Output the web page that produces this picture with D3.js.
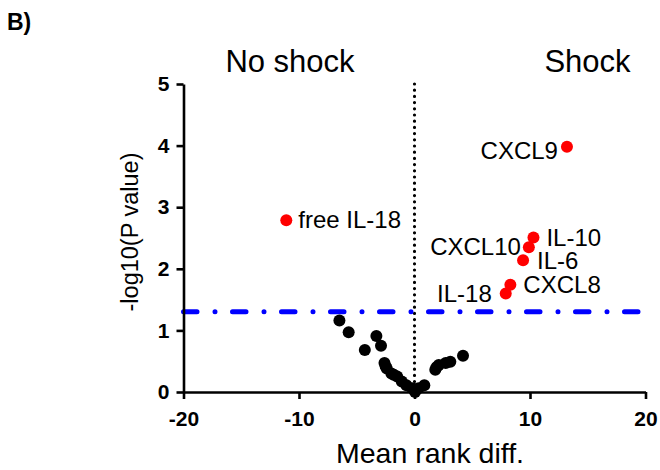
<!DOCTYPE html>
<html>
<head>
<meta charset="utf-8">
<script src="https://cdn.jsdelivr.net/npm/d3@7"></script>
<style>
  body { margin: 0; background: white; }
  svg { display: block; font-family: Arial, "Liberation Sans", sans-serif; }
</style>
</head>
<body>
<div id="chart"></div>
<script>
// significant cytokines (red)
const sigNames = ['CXCL9', 'free IL-18', 'IL-10', 'CXCL10', 'IL-6', 'CXCL8', 'IL-18'];
const sigRankDiff = [13.2, -11.1, 10.3, 9.9, 9.4, 8.3, 7.9];
const sigLogP = [3.98, 2.79, 2.51, 2.35, 2.14, 1.74, 1.60];

// non significant (black)
const nsRankDiff = [-6.5, -5.7, -3.3, -4.3, -2.9, -2.6, -2.5, -2.4, -2.0, -1.8, -1.5, -1.1, -0.7, -0.2, 0.05, 0.35, 0.85, 1.8, 1.9, 2.1, 2.7, 3.1, 4.2];
const nsLogP = [1.16, 0.97, 0.91, 0.68, 0.75, 0.47, 0.42, 0.38, 0.30, 0.28, 0.25, 0.17, 0.11, 0.06, 0.0, 0.06, 0.11, 0.36, 0.40, 0.44, 0.47, 0.49, 0.59];

const xTicks = [-20, -10, 0, 10, 20];
const yTicks = [0, 1, 2, 3, 4, 5];
const pThreshold = 0.05;

// label placement next to each red point: anchor, dx, dy
const labelPos = {
  'CXCL9': ['end', -9, 12],
  'free IL-18': ['start', 12, 8],
  'IL-10': ['start', 13, 9],
  'CXCL10': ['end', -8, 8],
  'IL-6': ['start', 14, 9],
  'CXCL8': ['start', 13, 8],
  'IL-18': ['end', -14, 9]
};

function main() {
  const width = 660, height = 470;
  const svg = d3.select('#chart').append('svg')
    .attr('width', width).attr('height', height);

  const x = d3.scaleLinear().domain([-20, 20]).range([183.5, 645.5]);
  const y = d3.scaleLinear().domain([0, 5]).range([392, 84]);

  // panel letter
  svg.append('text')
    .attr('x', 7).attr('y', 30)
    .attr('font-size', 23).attr('font-weight', 'bold')
    .text('B)');

  // group titles
  svg.append('text')
    .attr('x', 290).attr('y', 72)
    .attr('text-anchor', 'middle').attr('font-size', 31)
    .text('No shock');
  svg.append('text')
    .attr('x', 587.5).attr('y', 72)
    .attr('text-anchor', 'middle').attr('font-size', 31)
    .text('Shock');

  // dotted vertical at 0
  svg.append('line')
    .attr('x1', x(0)).attr('x2', x(0))
    .attr('y1', y(5)).attr('y2', y(0))
    .attr('stroke', 'black')
    .attr('stroke-width', 3.2)
    .attr('stroke-linecap', 'round')
    .attr('stroke-dasharray', '0,6.2');

  // significance threshold
  const thr = -Math.log10(pThreshold);
  svg.append('line')
    .attr('x1', x(-20)).attr('x2', x(20))
    .attr('y1', y(thr)).attr('y2', y(thr))
    .attr('stroke', '#0000ff')
    .attr('stroke-width', 5)
    .attr('stroke-linecap', 'round')
    .attr('stroke-dasharray', '13.5,18,0,17.5');

  // axes
  const fmt = (d) => String(d);
  const xAxis = svg.append('g')
    .attr('transform', 'translate(0,' + y(0) + ')')
    .call(d3.axisBottom(x).tickValues(xTicks).tickFormat(fmt).tickSize(7).tickSizeOuter(0).tickPadding(12));
  const yAxis = svg.append('g')
    .attr('transform', 'translate(' + x(-20) + ',0)')
    .call(d3.axisLeft(y).tickValues(yTicks).tickFormat(fmt).tickSize(7).tickSizeOuter(0).tickPadding(7));

  [xAxis, yAxis].forEach((g) => {
    g.select('.domain').attr('stroke-width', 2.6);
    g.selectAll('.tick line').attr('stroke-width', 2.6);
    g.selectAll('.tick text')
      .attr('font-size', 21)
      .attr('font-weight', 'bold')
      .attr('font-family', 'Arial, "Liberation Sans", sans-serif')
      .attr('fill', 'black');
  });

  // axis titles
  svg.append('text')
    .attr('x', 430).attr('y', 463)
    .attr('text-anchor', 'middle').attr('font-size', 28.5)
    .text('Mean rank diff.');
  svg.append('text')
    .attr('transform', 'translate(138,232) rotate(-90)')
    .attr('text-anchor', 'middle').attr('font-size', 23.5)
    .text('-log10(P value)');

  // black points
  const ns = nsRankDiff.map((d, i) => ({ x: d, y: nsLogP[i] }));
  svg.append('g').selectAll('circle').data(ns)
    .join('circle')
    .attr('cx', (d) => x(d.x))
    .attr('cy', (d) => y(d.y))
    .attr('r', 6)
    .attr('fill', 'black');

  // red points + labels
  const sig = sigNames.map((n, i) => ({ name: n, x: sigRankDiff[i], y: sigLogP[i] }));
  svg.append('g').selectAll('circle').data(sig)
    .join('circle')
    .attr('cx', (d) => x(d.x))
    .attr('cy', (d) => y(d.y))
    .attr('r', 6)
    .attr('fill', '#ff0000');

  svg.append('g').selectAll('text').data(sig)
    .join('text')
    .attr('x', (d) => x(d.x) + labelPos[d.name][1])
    .attr('y', (d) => y(d.y) + labelPos[d.name][2])
    .attr('text-anchor', (d) => labelPos[d.name][0])
    .attr('font-size', 24)
    .text((d) => d.name);
}

main();
</script>
</body>
</html>
